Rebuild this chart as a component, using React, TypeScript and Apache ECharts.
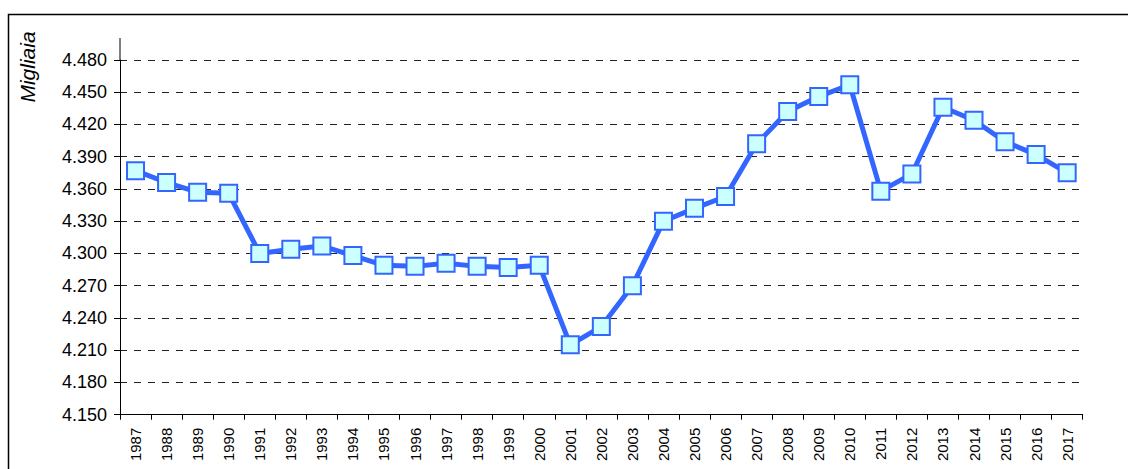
import React, { useEffect, useRef } from "react";
import * as echarts from "echarts";

const years: string[] = [
  "1987", "1988", "1989", "1990", "1991", "1992", "1993", "1994", "1995", "1996",
  "1997", "1998", "1999", "2000", "2001", "2002", "2003", "2004", "2005", "2006",
  "2007", "2008", "2009", "2010", "2011", "2012", "2013", "2014", "2015", "2016", "2017",
];

const values: number[] = [
  4377, 4366, 4357, 4356, 4300, 4304, 4307, 4298, 4289, 4288,
  4291, 4288, 4287, 4289, 4215, 4232, 4270, 4330, 4342, 4353,
  4402, 4432, 4446, 4457, 4358, 4374, 4436, 4424, 4404, 4392, 4375,
];

const yMin = 4150;
const yMax = 4480;
const yStep = 30;
const yTitle = "Migliaia";

const fmt = (v: number) => {
  const s = Math.round(v).toString();
  return s.replace(/\B(?=(\d{3})+(?!\d))/g, ".");
};

export default function App() {
  const ref = useRef<HTMLDivElement>(null);
  useEffect(() => {
    if (!ref.current) return;
    const chart = echarts.init(ref.current, undefined, { renderer: "svg" });
    chart.setOption({
      animation: false,
      backgroundColor: "#ffffff",
      grid: { left: 120, right: 45.3, top: 60, bottom: 54.3, containLabel: false },
      xAxis: {
        type: "category",
        data: years,
        boundaryGap: true,
        axisLine: { lineStyle: { color: "#000", width: 1 } },
        axisTick: { show: true, length: 5, alignWithLabel: false, lineStyle: { color: "#000" } },
        axisLabel: {
          rotate: 90,
          margin: 13,
          color: "#000",
          fontFamily: "'Liberation Sans', Arial, sans-serif",
          fontSize: 15,
          interval: 0,
        },
      },
      yAxis: {
        type: "value",
        min: yMin,
        max: yMax,
        interval: yStep,
        axisLine: { show: true, lineStyle: { color: "#000", width: 1 } },
        axisTick: { show: true, length: 6, lineStyle: { color: "#000" } },
        axisLabel: {
          margin: 13,
          color: "#000",
          fontFamily: "'Liberation Sans', Arial, sans-serif",
          fontSize: 18,
          formatter: (v: number) => fmt(v),
        },
        splitLine: {
          show: true,
          lineStyle: { color: "#222", width: 1, type: [7, 7] },
        },
      },
      graphic: [
        {
          type: "rect",
          shape: { x: 8.5, y: 14.5, width: 1300, height: 700 },
          style: { fill: "none", stroke: "#000", lineWidth: 1.5 },
          silent: true,
        },
        {
          type: "line",
          shape: { x1: 120, y1: 38, x2: 120, y2: 60 },
          style: { stroke: "#000", lineWidth: 1 },
          silent: true,
        },
        {
          type: "text",
          x: 27,
          y: 67,
          rotation: Math.PI / 2,
          style: {
            text: yTitle,
            fill: "#000",
            font: "italic 21px 'Liberation Sans', Arial, sans-serif",
            align: "center",
            verticalAlign: "middle",
          },
          silent: true,
        },
      ],
      series: [
        {
          type: "line",
          data: values,
          symbol: "rect",
          symbolSize: 17,
          lineStyle: { color: "#3366ff", width: 5 },
          itemStyle: { color: "#ccffff", borderColor: "#3366ff", borderWidth: 2 },
          z: 5,
        },
      ],
    });
    return () => chart.dispose();
  }, []);
  return (
    <div
      ref={ref}
      style={{ position: "fixed", left: 0, top: 0, width: 1128, height: 469, background: "#fff" }}
    />
  );
}
